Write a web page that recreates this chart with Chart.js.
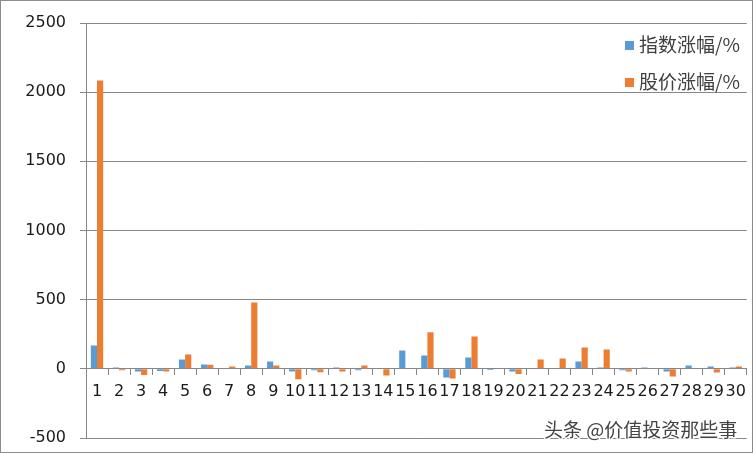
<!DOCTYPE html>
<html>
<head>
<meta charset="utf-8">
<script src="https://cdn.jsdelivr.net/npm/chart.js@4"></script>
<style>
  html, body { margin: 0; padding: 0; background: #fff; }
  #wrap { width: 753px; height: 453px; }
</style>
</head>
<body>
<div id="wrap"><canvas id="c"></canvas></div>
<script>
// categories 1..30
const categories = ['1','2','3','4','5','6','7','8','9','10','11','12','13','14','15',
                    '16','17','18','19','20','21','22','23','24','25','26','27','28','29','30'];
// 指数涨幅/%
const indexChange = [168, 10, -20, -15, 67, 31, 0, 24, 53, -19, -10, 10, -10, 0, 132,
                     96, -62, 82, -8, -19, 0, 0, 53, 10, -10, 10, -19, 24, 17, 10];
// 股价涨幅/%
const priceChange = [2085, -10, -45, -20, 103, 30, 17, 480, 24, -75, -24, -19, 24, -48, 0,
                     264, -70, 233, 0, -38, 67, 75, 154, 139, -19, 0, -55, 0, -26, 17];
const yTicks = [-500, 0, 500, 1000, 1500, 2000, 2500];

const FONT = '"DejaVu Sans", sans-serif';
const CJK = '"Noto Sans CJK SC", sans-serif';

// legend drawn over the plot area, like the original
const overlayLegend = {
    id: 'overlayLegend',
    afterDraw(chart) {
        let ctx = chart.ctx;
        ctx.save();
        ctx.font = '19px ' + CJK;
        ctx.textBaseline = 'middle';
        chart.data.datasets.forEach(function (ds, i) {
            let y = 45 + i * 37;
            ctx.fillStyle = ds.backgroundColor;
            ctx.fillRect(625, y - 4, 9, 9);
            ctx.fillStyle = '#404040';
            ctx.fillText(ds.label, 639, y);
        });
        // watermark
        ctx.font = '19px ' + CJK;
        ctx.lineWidth = 3;
        ctx.strokeStyle = 'rgba(255,255,255,0.9)';
        ctx.strokeText('头条 @价值投资那些事', 544, 430);
        ctx.fillStyle = '#444';
        ctx.fillText('头条 @价值投资那些事', 544, 430);
        // outer border
        ctx.strokeStyle = '#8c8c8c';
        ctx.lineWidth = 1;
        ctx.strokeRect(0.5, 0.5, chart.width - 1, chart.height - 1);
        ctx.restore();
    }
};

let ctx = document.getElementById('c').getContext('2d');

let myChart = new Chart(ctx, {
    type: 'bar',
    data: {
        labels: categories,
        datasets: [{
            label: '指数涨幅/%',
            data: indexChange,
            backgroundColor: '#5B9BD5',
            barPercentage: 1,
            categoryPercentage: 0.56
        }, {
            label: '股价涨幅/%',
            data: priceChange,
            backgroundColor: '#ED7D31',
            barPercentage: 1,
            categoryPercentage: 0.56
        }]
    },
    options: {
        responsive: true,
        maintainAspectRatio: false,
        animation: false,
        layout: { padding: { left: 0, top: 23, right: 4, bottom: 15 } },
        plugins: {
            legend: { display: false },
            tooltip: { enabled: false }
        },
        scales: {
            x: {
                position: { y: 0 },
                grid: {
                    offset: true,
                    drawOnChartArea: false,
                    drawTicks: true,
                    tickLength: 6,
                    color: '#878787'
                },
                border: { display: true, color: '#878787' },
                ticks: {
                    autoSkip: false,
                    maxRotation: 0,
                    padding: 7,
                    color: '#1a1a1a',
                    font: { family: FONT, size: 16 }
                }
            },
            y: {
                min: -500,
                max: 2500,
                afterBuildTicks: function (scale) {
                    scale.ticks = yTicks.map(function (v) { return { value: v }; });
                },
                afterFit: function (scale) {
                    scale.width = 86;
                    // don't let the label padding push the plot area in
                    scale.paddingTop = 0;
                    scale.paddingBottom = 0;
                },
                grid: {
                    color: '#878787',
                    tickLength: 6
                },
                border: { display: true, color: '#878787' },
                ticks: {
                    padding: 14,
                    color: '#1a1a1a',
                    font: { family: FONT, size: 16 },
                    callback: function (v) { return String(v); }
                }
            }
        }
    },
    plugins: [overlayLegend]
});
</script>
</body>
</html>
